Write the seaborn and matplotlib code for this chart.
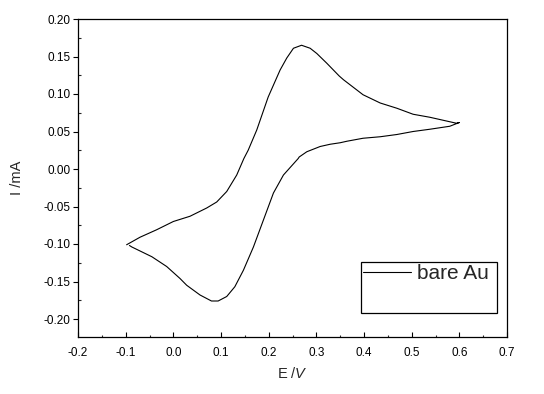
import numpy as np
import pandas as pd
import matplotlib
matplotlib.use("Agg")
import matplotlib.pyplot as plt
import seaborn as sns
from matplotlib.ticker import MultipleLocator
from matplotlib.lines import Line2D

# Cyclic voltammogram of bare Au
# forward (anodic) branch from -0.1 V to 0.6 V
E_fwd = [-0.098, -0.070, -0.035, 0.000, 0.035, 0.070, 0.091, 0.112, 0.133, 0.148,
         0.157, 0.175, 0.199, 0.224, 0.238, 0.252, 0.269, 0.287, 0.301, 0.322,
         0.348, 0.357, 0.398, 0.434, 0.469, 0.503, 0.538, 0.566, 0.594, 0.600]
I_fwd = [-0.101, -0.091, -0.081, -0.070, -0.063, -0.052, -0.044, -0.030, -0.008, 0.014,
         0.025, 0.052, 0.096, 0.132, 0.148, 0.161, 0.165, 0.161, 0.154, 0.141,
         0.124, 0.119, 0.099, 0.088, 0.081, 0.073, 0.069, 0.065, 0.061, 0.062]
# reverse (cathodic) branch from 0.6 V back to -0.1 V
E_rev = [0.580, 0.538, 0.503, 0.469, 0.434, 0.398, 0.364, 0.350, 0.329, 0.308,
         0.280, 0.264, 0.262, 0.231, 0.210, 0.189, 0.168, 0.147, 0.129, 0.112,
         0.094, 0.080, 0.056, 0.028, 0.014, -0.014, -0.045, -0.087, -0.092]
I_rev = [0.057, 0.053, 0.050, 0.046, 0.043, 0.041, 0.037, 0.035, 0.033, 0.030,
         0.023, 0.016, 0.014, -0.008, -0.032, -0.068, -0.104, -0.135, -0.157, -0.170,
         -0.176, -0.176, -0.168, -0.155, -0.146, -0.130, -0.117, -0.104, -0.102]

x_ticks = [-0.2, -0.1, 0.0, 0.1, 0.2, 0.3, 0.4, 0.5, 0.6, 0.7]
y_ticks = [-0.20, -0.15, -0.10, -0.05, 0.00, 0.05, 0.10, 0.15, 0.20]
series_label = "bare Au"

df = pd.DataFrame({
    "E": E_fwd + E_rev,
    "I": I_fwd + I_rev,
    "order": np.arange(len(E_fwd) + len(E_rev)),
})

sns.set_style("white")
plt.rcParams["font.family"] = ["Liberation Sans", "DejaVu Sans"]
plt.rcParams["mathtext.fontset"] = "custom"
plt.rcParams["mathtext.rm"] = "Liberation Sans"
plt.rcParams["mathtext.it"] = "Liberation Sans:italic"

fig = plt.figure(figsize=(5.44, 3.94), dpi=100)
ax = fig.add_axes([78/544, 1 - 337/394, (507-78)/544, (337-19)/394])

sns.lineplot(data=df, x="E", y="I", sort=False, estimator=None,
             color="black", linewidth=0.8, ax=ax)

ax.set_xlim(-0.2, 0.7)
ax.set_ylim(-0.224, 0.20)
ax.set_xticks(x_ticks)
ax.set_yticks(y_ticks)
ax.set_xticklabels([f"{v:.1f}" for v in x_ticks])
ax.set_yticklabels([f"{v:.2f}" for v in y_ticks])
ax.xaxis.set_minor_locator(MultipleLocator(0.05))
ax.yaxis.set_minor_locator(MultipleLocator(0.025))

ax.tick_params(axis="x", which="major", direction="in", length=3.6, width=0.8,
               labelsize=8.5, pad=7, colors="black", bottom=True, top=False)
ax.tick_params(axis="x", which="minor", direction="in", length=1.8, width=0.8,
               bottom=True, top=False)
ax.tick_params(axis="y", which="major", direction="out", length=3.6, width=0.8,
               labelsize=8.5, pad=1.6, colors="black", left=True, right=False)
ax.tick_params(axis="y", which="minor", direction="in", length=1.8, width=0.8,
               left=True, right=False)

for s in ax.spines.values():
    s.set_visible(True)
    s.set_color("black")
    s.set_linewidth(0.9)

ax.set_xlabel(r"E $\mathit{/V}$", fontsize=10.5, labelpad=5)
ax.set_ylabel("I /mA", fontsize=10.5, labelpad=14)

handles = [Line2D([], [], color="black", linewidth=0.8),
           Line2D([], [], color="none")]
leg = ax.legend(handles, [series_label, ""], loc="upper left",
                bbox_to_anchor=(0.66, 0.0755, 0.317, 0.1605), mode="expand",
                fontsize=15, frameon=True,
                fancybox=False, edgecolor="black", framealpha=1,
                handlelength=2.3, handletextpad=0.3, borderpad=0.1,
                borderaxespad=0, labelspacing=0.42)
leg.get_frame().set_linewidth(0.9)

fig.savefig("out.png", dpi=100)
